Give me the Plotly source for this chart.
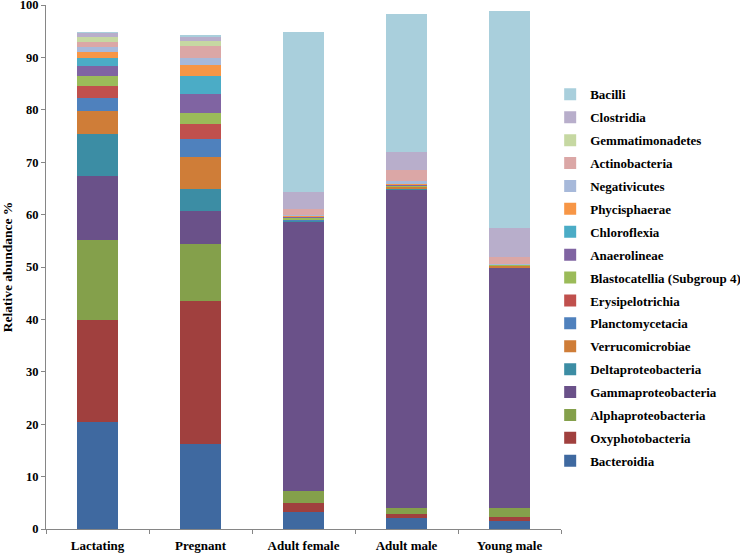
import plotly.graph_objects as go

groups = ["Lactating", "Pregnant", "Adult female", "Adult male", "Young male"]

taxa = ["Bacteroidia", "Oxyphotobacteria", "Alphaproteobacteria", "Gammaproteobacteria",
        "Deltaproteobacteria", "Verrucomicrobiae", "Planctomycetacia", "Erysipelotrichia",
        "Blastocatellia (Subgroup 4)", "Anaerolineae", "Chloroflexia", "Phycisphaerae",
        "Negativicutes", "Actinobacteria", "Gemmatimonadetes", "Clostridia", "Bacilli"]

Bacteroidia = [20.46, 16.3, 3.3, 2.05, 1.5]
Oxyphotobacteria = [19.4, 27.25, 1.6, 0.85, 0.7]
Alphaproteobacteria = [15.2, 10.85, 2.3, 1.2, 1.8]
Gammaproteobacteria = [12.25, 6.25, 51.5, 60.7, 45.85]
Deltaproteobacteria = [8.15, 4.25, 0.15, 0.2, 0.1]
Verrucomicrobiae = [4.25, 6.05, 0.1, 0.3, 0.3]
Planctomycetacia = [2.5, 3.55, 0.1, 0.05, 0.05]
Erysipelotrichia = [2.3, 2.7, 0.1, 0.05, 0.05]
Blastocatellia = [1.9, 2.1, 0.35, 0.2, 0.1]
Anaerolineae = [1.9, 3.75, 0.1, 0.1, 0.05]
Chloroflexia = [1.6, 3.35, 0.05, 0.0, 0.0]
Phycisphaerae = [1.1, 2.1, 0.1, 0.05, 0.0]
Negativicutes = [1.0, 1.4, 0.15, 0.7, 0.1]
Actinobacteria = [0.95, 2.37, 1.2, 2.1, 1.3]
Gemmatimonadetes = [0.95, 0.93, 0.05, 0.05, 0.0]
Clostridia = [0.77, 0.85, 3.2, 3.4, 5.6]
Bacilli = [0.1, 0.1, 30.5, 26.2, 41.3]

values = [Bacteroidia, Oxyphotobacteria, Alphaproteobacteria, Gammaproteobacteria,
          Deltaproteobacteria, Verrucomicrobiae, Planctomycetacia, Erysipelotrichia,
          Blastocatellia, Anaerolineae, Chloroflexia, Phycisphaerae, Negativicutes,
          Actinobacteria, Gemmatimonadetes, Clostridia, Bacilli]

colors = ["#3F69A0", "#A0403E", "#84A04B", "#6A5189", "#3C8DA4", "#CF7D38",
          "#4F81BD", "#C0504D", "#9BBB59", "#8064A2", "#4BACC6", "#F79646",
          "#A7B9DA", "#DBA7A6", "#C6D8A2", "#B8AECB", "#A9CFDC"]

FONT = "Liberation Serif, Times New Roman, serif"

fig = go.Figure()
for i, (name, vals, col) in enumerate(zip(taxa, values, colors)):
    fig.add_trace(go.Bar(x=groups, y=vals, name=name, legendgroup=name,
                         legendrank=1000 - i,
                         marker=dict(color=col, line=dict(width=0))))

fig.update_layout(
    barmode="stack",
    bargap=0.6,
    width=740, height=554,
    margin=dict(l=46, r=179, t=5, b=25, autoexpand=False),
    paper_bgcolor="white", plot_bgcolor="white",
    font=dict(family=FONT, color="black", size=13, weight="bold"),
    legend=dict(traceorder="grouped", x=0.979, xanchor="left", y=0.858, yanchor="top",
                font=dict(family=FONT, size=13, weight="bold", color="black"),
                bgcolor="rgba(0,0,0,0)", itemwidth=30, tracegroupgap=3),
    xaxis=dict(showline=True, linecolor="#868686", linewidth=1, ticks="outside",
               tickson="boundaries", ticklen=4, tickcolor="#868686",
               ticklabeloverflow="allow", ticklabelstandoff=4,
               tickfont=dict(family=FONT, size=13, weight="bold"), automargin=False),
    yaxis=dict(range=[0, 100], dtick=10, showgrid=False, zeroline=False, showline=True,
               linecolor="#868686", linewidth=1, ticks="outside", ticklen=4, tickcolor="#868686",
               ticklabeloverflow="allow",
               tickfont=dict(family=FONT, size=12.5, weight="bold"), automargin=False,
               title=dict(text="Relative abundance %", standoff=16,
                          font=dict(family=FONT, size=13.5, weight="bold"))),
)

fig.write_html("out.html", config={"displayModeBar": False},
               post_script="document.body.style.margin='0';document.body.style.overflow='hidden';")
